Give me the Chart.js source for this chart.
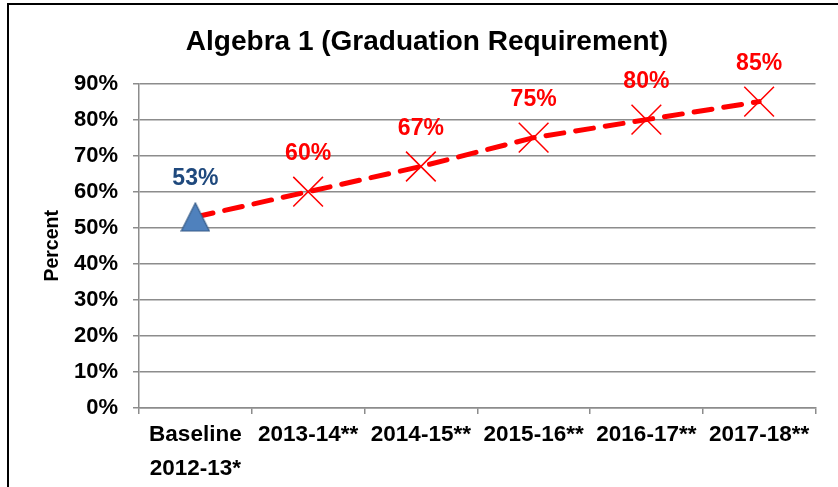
<!DOCTYPE html>
<html>
<head>
<meta charset="utf-8">
<script src="https://cdn.jsdelivr.net/npm/chart.js@4.4.0/dist/chart.umd.min.js"></script>
<style>
  html, body { margin: 0; padding: 0; background: #fff; }
  #frame { position: absolute; left: 7px; top: 3px; width: 840px; height: 500px;
           border-left: 2px solid #000; border-top: 2px solid #000; }
  #wrap { position: absolute; left: 0; top: 0; width: 838px; height: 487px; }
</style>
</head>
<body>
<div id="frame"></div>
<div id="wrap"><canvas id="myChart" width="838" height="487"></canvas></div>
<script>
// chart data
var categories = [['Baseline', '2012-13*'], '2013-14**', '2014-15**', '2015-16**', '2016-17**', '2017-18**'];
var percents = [53, 60, 67, 75, 80, 85];
var labelColors = ['#1F497D', '#FF0000', '#FF0000', '#FF0000', '#FF0000', '#FF0000'];
var yTicks = [0, 10, 20, 30, 40, 50, 60, 70, 80, 90];

var gridGray = 'rgb(140,140,140)';
var fontFam = '"Liberation Sans", Arial, sans-serif';

// baseline marker: blue triangle, as tall as it is wide
function makeTriangle() {
    var c = document.createElement('canvas');
    c.width = 30;
    c.height = 30;
    var t = c.getContext('2d');
    t.beginPath();
    t.moveTo(15, 1);
    t.lineTo(29, 29);
    t.lineTo(1, 29);
    t.closePath();
    t.fillStyle = '#4F81BD';
    t.fill();
    t.strokeStyle = '#385D8A';
    t.lineWidth = 1.2;
    t.stroke();
    return c;
}
var pointStyles = [makeTriangle(), 'crossRot', 'crossRot', 'crossRot', 'crossRot', 'crossRot'];

// value labels above each point
const valueLabels = {
    id: 'valueLabels',
    afterDatasetsDraw: (chart) => {
        const ctx = chart.ctx;
        const meta = chart.getDatasetMeta(0);
        ctx.save();
        ctx.font = 'bold 23px ' + fontFam;
        ctx.textAlign = 'center';
        ctx.textBaseline = 'middle';
        meta.data.forEach(function(pt, i) {
            ctx.fillStyle = labelColors[i];
            ctx.fillText(percents[i] + '%', pt.x, pt.y - 38);
        });
        ctx.restore();
    }
};

const config = {
    type: 'line',
    data: {
        labels: categories,
        datasets: [{
            data: percents,
            borderColor: '#FF0000',
            borderWidth: 5,
            borderDash: [18, 12],
            borderCapStyle: 'round',
            fill: false,
            tension: 0,
            pointStyle: pointStyles,
            pointRadius: 21,
            pointHoverRadius: 21,
            pointBackgroundColor: '#FF0000',
            pointBorderColor: '#FF0000',
            pointBorderWidth: 1.5
        }]
    },
    options: {
        responsive: false,
        animation: false,
        layout: { padding: { left: 30, right: 14, top: 25, bottom: 0 } },
        plugins: {
            legend: { display: false },
            tooltip: { enabled: false },
            title: {
                display: true,
                text: 'Algebra 1 (Graduation Requirement)',
                color: '#000',
                font: { family: fontFam, size: 28, weight: 'bold' },
                padding: { top: 0, bottom: 25 }
            }
        },
        scales: {
            x: {
                offset: true,
                grid: { offset: true, drawOnChartArea: false, color: gridGray, lineWidth: 1.5, tickLength: 6 },
                border: { color: gridGray, width: 1.5 },
                ticks: {
                    color: '#000',
                    padding: 4,
                    maxRotation: 0,
                    autoSkip: false,
                    font: { family: fontFam, size: 22.5, weight: 'bold', lineHeight: 1.5 }
                },
                afterFit: (scale) => { scale.height = 79; }
            },
            y: {
                min: 0,
                max: 90,
                afterBuildTicks: (scale) => { scale.ticks = yTicks.map(v => ({ value: v })); },
                grid: { color: gridGray, lineWidth: 1.5, tickLength: 6 },
                border: { color: gridGray, width: 1.5 },
                ticks: {
                    color: '#000',
                    padding: 15,
                    callback: (v) => v + '%',
                    font: { family: fontFam, size: 22, weight: 'bold' }
                },
                title: {
                    display: true,
                    text: 'Percent',
                    color: '#000',
                    padding: { top: 11, bottom: 0 },
                    font: { family: fontFam, size: 19.5, weight: 'bold' }
                },
                afterFit: (scale) => { scale.width = 109; }
            }
        }
    },
    plugins: [valueLabels]
};

const myChart = new Chart(document.getElementById('myChart'), config);
</script>
</body>
</html>
